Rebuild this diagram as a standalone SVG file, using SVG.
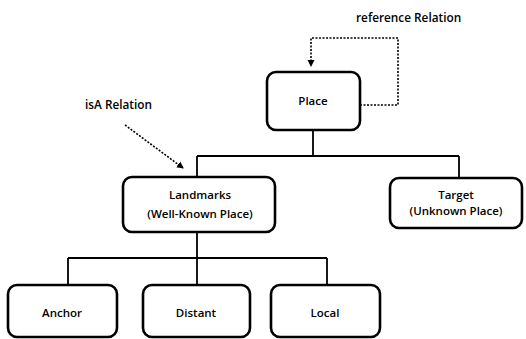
<svg xmlns="http://www.w3.org/2000/svg" width="526" height="339" viewBox="0 0 526 339">
  <defs>
    <style>
      .box { fill: #fff; stroke: #000; stroke-width: 2.6; }
      .tree { fill: none; stroke: #000; stroke-width: 1.8; }
      .rel { fill: none; stroke: #000; stroke-width: 1.6; stroke-dasharray: 2 1.5; }
      .lbl { font-family: "Open Sans", "Liberation Sans", sans-serif; font-size: 11.5px; font-weight: 600; fill: #000; text-anchor: middle; }
      .note { font-family: "Open Sans", "Liberation Sans", sans-serif; font-size: 11.8px; font-weight: 600; fill: #000; }
    </style>
    <marker id="arrow" markerWidth="8" markerHeight="8" refX="6" refY="4" orient="auto" markerUnits="userSpaceOnUse">
      <path d="M0,0.5 L7,4 L0,7.5 Z" fill="#000"/>
    </marker>
  </defs>

  <!-- connectors -->
  <g id="connectors">
    <path class="tree" d="M313,130 V156 M197,156 H459 M197,156 V177 M459,156 V178"/>
    <path class="tree" d="M197,232 V258 M68,258 H327 M68,258 V285 M197,258 V285 M327,258 V285"/>
    <path class="rel" d="M360,105 H398 V38 H311 V66" marker-end="url(#arrow)"/>
    <path class="rel" d="M125,125 L183,168" marker-end="url(#arrow)"/>
  </g>

  <!-- relation labels -->
  <text class="note" x="356" y="22">reference Relation</text>
  <text class="note" x="85" y="109">isA Relation</text>

  <g id="place">
    <rect class="box" x="267" y="72" width="93" height="58" rx="9"/>
    <text class="lbl" x="313" y="105">Place</text>
  </g>

  <g id="landmarks">
    <rect class="box" x="123" y="177" width="152" height="55" rx="9"/>
    <text class="lbl" x="200" y="199">Landmarks</text>
    <text class="lbl" x="200" y="218">(Well-Known Place)</text>
  </g>

  <g id="target">
    <rect class="box" x="390" y="178" width="132" height="50" rx="9"/>
    <text class="lbl" x="456" y="199">Target</text>
    <text class="lbl" x="456" y="215">(Unknown Place)</text>
  </g>

  <g id="anchor">
    <rect class="box" x="8" y="285" width="109" height="52" rx="9"/>
    <text class="lbl" x="62" y="317">Anchor</text>
  </g>

  <g id="distant">
    <rect class="box" x="143" y="285" width="107" height="52" rx="9"/>
    <text class="lbl" x="196" y="317">Distant</text>
  </g>

  <g id="local">
    <rect class="box" x="271" y="285" width="109" height="52" rx="9"/>
    <text class="lbl" x="325" y="317">Local</text>
  </g>
</svg>
